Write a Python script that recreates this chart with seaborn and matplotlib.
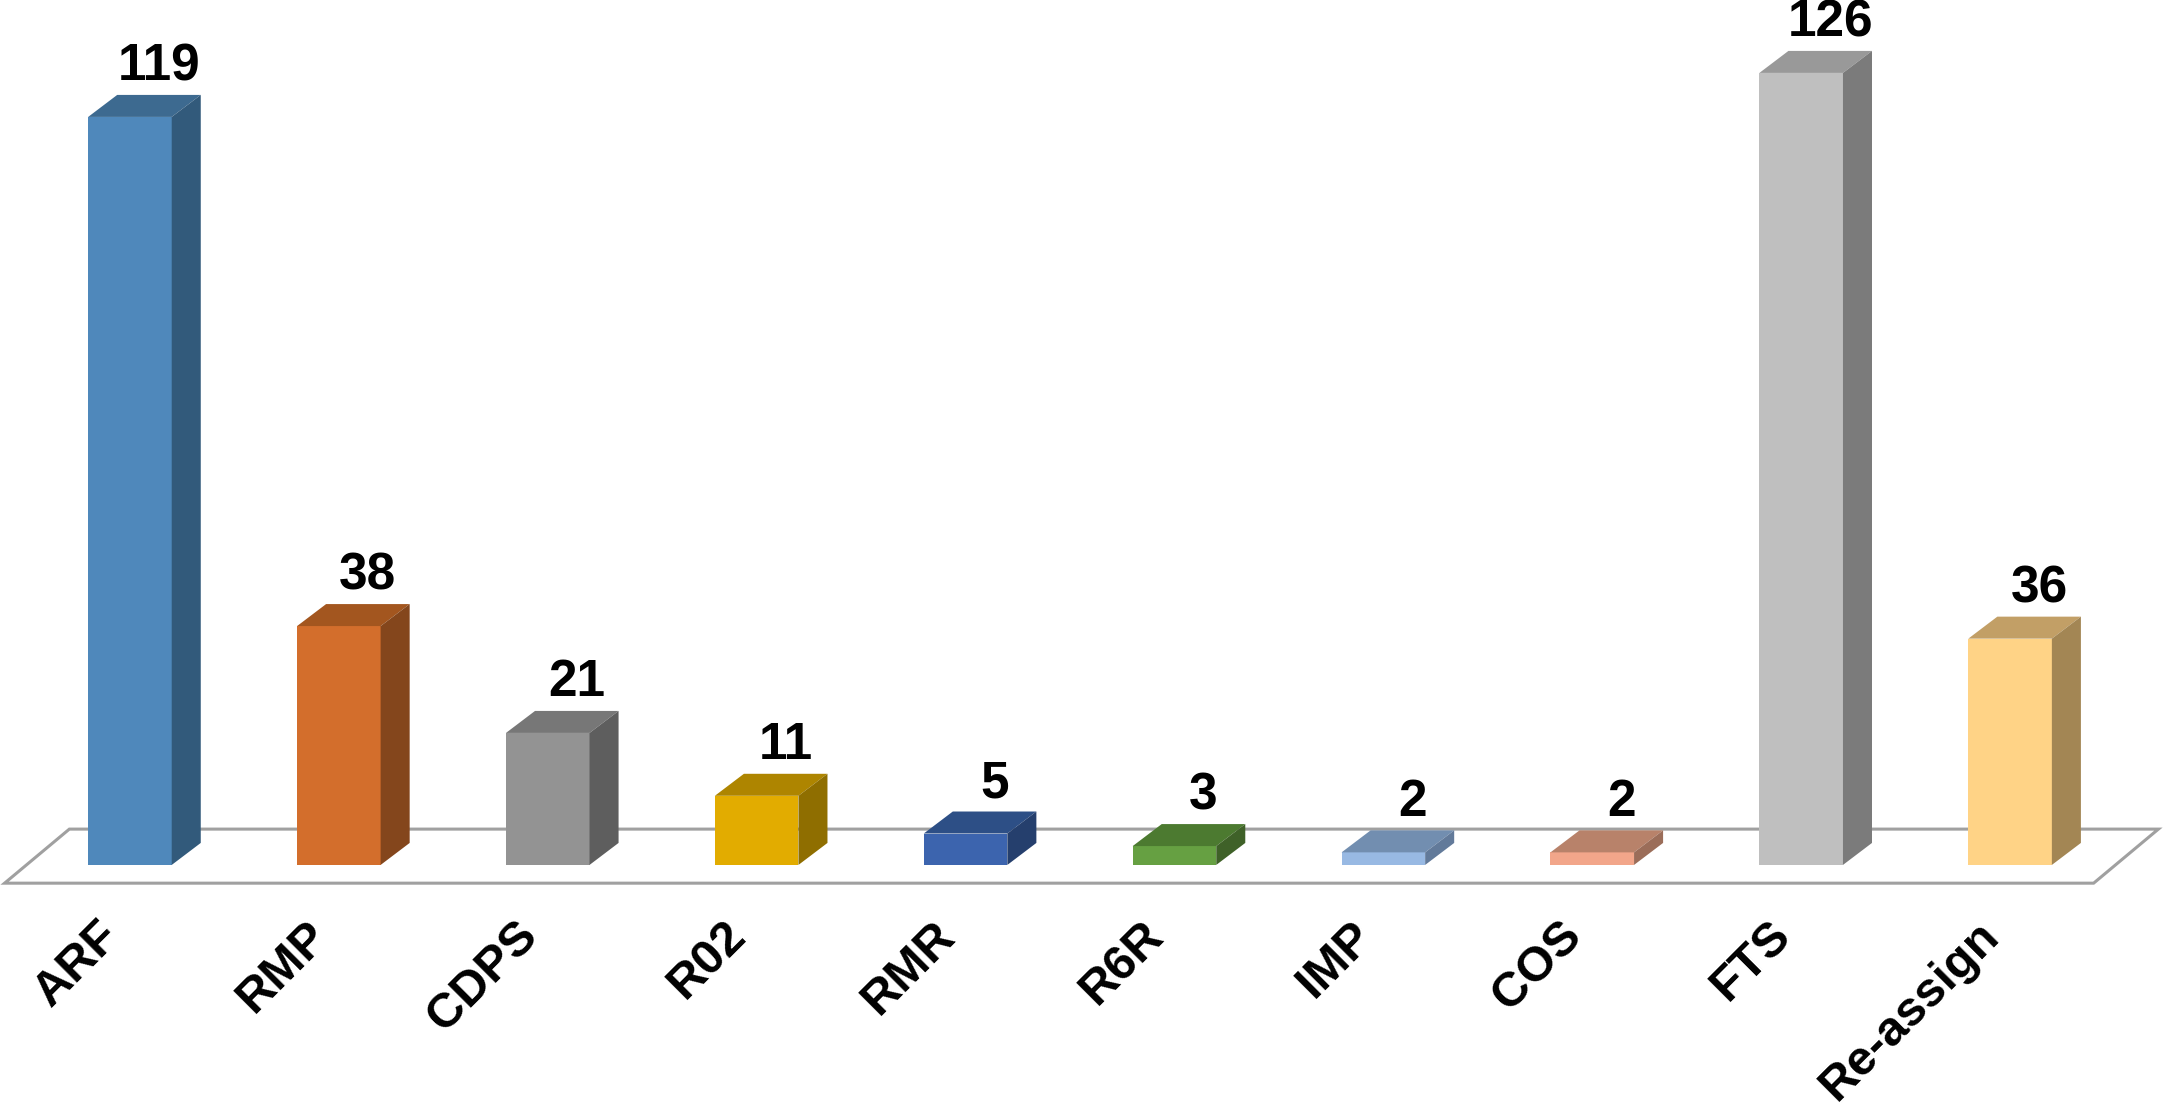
import matplotlib
matplotlib.use("Agg")
import matplotlib.pyplot as plt
from matplotlib.patches import Polygon
import pandas as pd
import seaborn as sns

# data
categories = ["ARF", "RMP", "CDPS", "R02", "RMR", "R6R", "IMP", "COS", "FTS", "Re-assign"]
counts = [119, 38, 21, 11, 5, 3, 2, 2, 126, 36]

# front / top / side shades of each bar
front_colors = ["#4F88BB", "#D36E2C", "#939393", "#E2AC00", "#3C64AE",
                "#66A042", "#98B9E3", "#F2A68A", "#BFBFBF", "#FFD386"]
top_colors = ["#3D6A90", "#A3561F", "#777777", "#AE8500", "#2D4F86",
              "#4C7A30", "#728EB0", "#B8826A", "#999999", "#C29F66"]
side_colors = ["#325A7B", "#84461C", "#5E5E5E", "#8F6E00", "#253F6D",
               "#3F6128", "#627A9A", "#9B6D59", "#7B7B7B", "#A38654"]

df = pd.DataFrame({"category": categories, "count": counts})

sns.set_theme(style="white")
plt.rcParams['font.family'] = ['Liberation Sans', 'DejaVu Sans']

fig = plt.figure(figsize=(21.63, 11.06), dpi=100)
ax = fig.add_axes([0, 0, 1, 1])

sns.barplot(data=df, x="category", y="count", hue="category", palette=front_colors,
            width=0.4, saturation=1, legend=False, ax=ax, zorder=3, linewidth=0)

ax.set_xlim(-0.622, 9.732)
ax.set_ylim(-38.35, 137.6)

# bars drawn by seaborn, left to right
bars = sorted(list(ax.patches), key=lambda p: p.get_x())

# 3D depth of bars (data units)
dx, dy = 0.139, 3.5

# floor plate
n = len(categories)
fl_left, fl_right = -0.6, n - 0.6
fl_front, fl_back, fl_dx = -2.9, 5.7, 0.31
floor = Polygon([(fl_left, fl_front), (fl_right, fl_front),
                 (fl_right + fl_dx, fl_back), (fl_left + fl_dx, fl_back)],
                closed=True, facecolor="white", edgecolor="#A0A0A0", lw=2.2, zorder=1)
ax.add_patch(floor)

for i, p in enumerate(bars):
    x0, w, h = p.get_x(), p.get_width(), p.get_height()
    top = Polygon([(x0, h), (x0 + w, h), (x0 + w + dx, h + dy), (x0 + dx, h + dy)],
                  closed=True, facecolor=top_colors[i], edgecolor="none", zorder=3)
    side = Polygon([(x0 + w, 0), (x0 + w + dx, dy), (x0 + w + dx, h + dy), (x0 + w, h)],
                   closed=True, facecolor=side_colors[i], edgecolor="none", zorder=3)
    ax.add_patch(top)
    ax.add_patch(side)
    ax.text(x0 + w / 2 + dx, h + dy + 2.3, str(counts[i]), ha="center", va="baseline",
            fontsize=37, fontweight="bold", color="black", zorder=5)

# rotated category labels below the floor
ticks = ax.get_xticks()
for t, lab in zip(ticks, categories):
    ax.text(t - 0.16, -7.6, lab, rotation=45, ha="right", va="top", rotation_mode="anchor",
            fontsize=35, fontweight="bold", color="black")

ax.axis("off")
fig.savefig("out.png", dpi=100)
